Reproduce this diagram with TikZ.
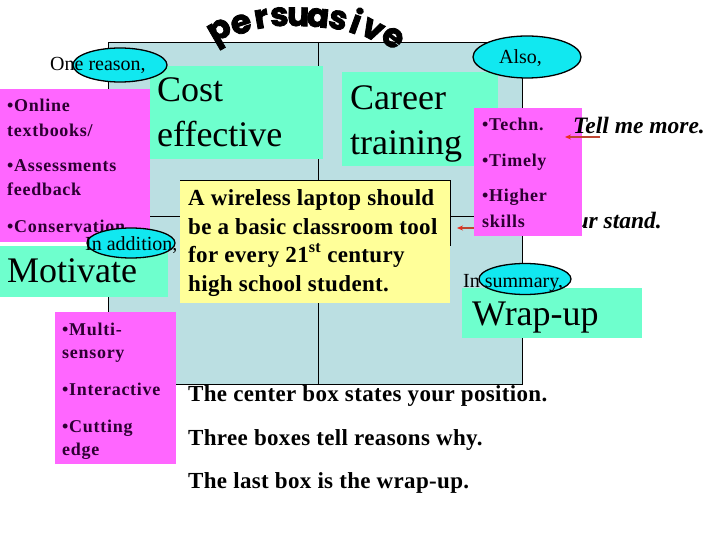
\documentclass[tikz,border=0pt]{standalone}
\usepackage{fontspec}
\setmainfont{Liberation Serif}
\newfontfamily\spcfont{Liberation Serif}[LetterSpace=1.5]
\newfontfamily\pinkfont{Liberation Serif}[LetterSpace=4]
\newfontfamily\titlefont{Poppins}[BoldFeatures={FakeBold=2.5}]
\usetikzlibrary{arrows.meta,shapes.geometric}
\definecolor{bluebg}{RGB}{187,223,226}
\definecolor{aqua}{RGB}{110,255,205}
\definecolor{pinkbox}{RGB}{255,102,255}
\definecolor{yellowbox}{RGB}{255,255,153}
\definecolor{cyanell}{RGB}{17,232,240}
\definecolor{darktext}{RGB}{45,0,50}
\definecolor{arrowline}{RGB}{190,70,50}
\definecolor{arrowhead}{RGB}{235,45,30}
\begin{document}
\begin{tikzpicture}[x=1pt,y=-1pt,
  boxshape/.style={rectangle,inner sep=0pt,outer sep=0pt,anchor=north west},
  aquabox/.style={boxshape,fill=aqua},
  pinkrect/.style={boxshape,fill=pinkbox},
  ell/.style={ellipse,draw=black,line width=1.3pt,fill=cyanell,inner sep=0pt},
  elltext/.style={anchor=base west,inner sep=0pt,font=\fontsize{20}{24}\selectfont},
  bigtext/.style={anchor=base west,inner sep=0pt,font=\fontsize{36}{43}\selectfont},
  ytext/.style={anchor=base west,inner sep=0pt,font=\fontsize{23}{27}\spcfont\bfseries},
  ptext/.style={anchor=base west,inner sep=0pt,text=darktext,font=\fontsize{18}{21}\pinkfont\bfseries},
  itext/.style={inner sep=0pt,font=\fontsize{23.5}{27}\selectfont\bfseries\itshape},
  titleletter/.style={anchor=base,inner sep=0pt,font=\fontsize{33}{35}\titlefont\bfseries},
  redarrow/.style={draw=arrowline,line width=1.6pt,-{Stealth[length=6pt,width=5pt,color=arrowhead]}}
]
\useasboundingbox (0,0) rectangle (720,540);
\fill[white] (0,0) rectangle (720,540);

% frame with grid
\node[boxshape,fill=bluebg,draw=black,line width=0.8pt,minimum width=414pt,minimum height=342pt] (frame) at (108,42) {};
\draw[line width=0.8pt] (318,42) -- (318,384);
\draw[line width=0.8pt] (108,216) -- (522,216);

% reason boxes in frame
\node[aquabox,minimum width=173pt,minimum height=93pt] (costbox) at (150,66) {};
\node[bigtext] (cost1) at (157,102) {Cost};
\node[bigtext] (cost2) at (157,147) {effective};
\node[aquabox,minimum width=156pt,minimum height=94pt] (careerbox) at (342,72) {};
\node[bigtext] (career1) at (350,110) {Career};
\node[bigtext] (career2) at (350,155) {training};

% centre box
\node[boxshape,fill=yellowbox,minimum width=270pt,minimum height=123pt] (centre) at (180,180) {};
\draw[line width=0.8pt] (180,180) -- (450,180) -- (450,246);
\node[ytext] (y1) at (188,206) {A wireless laptop should};
\node[ytext] (y2) at (188,234) {be a basic classroom tool};
\node[ytext] (y3) at (188,262) {for every 21\textsuperscript{st} century};
\node[ytext] (y4) at (188,291) {high school student.};

% state your stand (under the pink box)
\node[itext,anchor=base east] (stand) at (662,229) {State your stand.};
\coordinate (standstart) at (505,228);
\coordinate (standend) at (457,228);
\draw[redarrow] (standstart) -- (standend);

% right pink box
\node[pinkrect,minimum width=108pt,minimum height=128pt] (rpink) at (474,108) {};
\node[ptext] (r1) at (482,131) {•Techn.};
\node[ptext] (r2) at (482,167) {•Timely};
\node[ptext] (r3) at (482,202) {•Higher};
\node[ptext] (r4) at (482,227) {skills};

% tell me more
\node[itext,anchor=base west] (tell) at (573,134) {Tell me more.};
\coordinate (tellstart) at (600,137);
\coordinate (tellend) at (565,137);
\draw[redarrow] (tellstart) -- (tellend);

% left pink box
\node[pinkrect,minimum width=150pt,minimum height=153pt] (lpink) at (0,89) {};
\node[ptext] (l1) at (7,112) {•Online};
\node[ptext] (l2) at (7,137) {textbooks/};
\node[ptext] (l3) at (7,172) {•Assessments};
\node[ptext] (l4) at (7,196) {feedback};
\node[ptext] (l5) at (7,233) {•Conservation};

% one reason
\node[ell,minimum width=94pt,minimum height=34pt] (ell1) at (120,65) {};
\node[elltext] (one) at (50,71) {One reason,};

% motivate
\node[aquabox,minimum width=168pt,minimum height=51pt] (motbox) at (0,246) {};
\node[bigtext] (mot) at (7,282) {Motivate};
\node[ell,minimum width=88pt,minimum height=30pt] (ell3) at (131,243) {};
\node[elltext] (inadd) at (85,250) {In addition,};

% bottom pink box
\node[pinkrect,minimum width=121pt,minimum height=152pt] (bpink) at (55,312) {};
\node[ptext] (b1) at (62,335) {•Multi-};
\node[ptext] (b2) at (62,358) {sensory};
\node[ptext] (b3) at (62,395) {•Interactive};
\node[ptext] (b4) at (62,432) {•Cutting};
\node[ptext] (b5) at (62,455) {edge};

% wrap-up
\node[aquabox,minimum width=180pt,minimum height=50pt] (wrapbox) at (462,288) {};
\node[bigtext] (wrap) at (472,325) {Wrap-up};
\node[ell,minimum width=92pt,minimum height=31pt] (ell4) at (525,279) {};
\node[elltext] (insum) at (463,287) {In summary,};

% also
\node[ell,minimum width=108pt,minimum height=42pt] (ell2) at (527,57) {};
\node[elltext] (also) at (499,64) {Also,};

% notes
\node[ytext] (n1) at (188,401) {The center box states your position.};
\node[ytext] (n2) at (188,445) {Three boxes tell reasons why.};
\node[ytext] (n3) at (188,488) {The last box is the wrap-up.};

% title
\foreach \ch/\xx/\yy/\rr [count=\i] in {p/224/38/30, e/244/33/18, r/263/28/10, s/280/26/4, u/298/26/-1, a/317/27/-6, s/336/29/-12, i/352/33/-20, v/368/38/-28, e/387/45/-38}
  \node[titleletter,rotate=\rr] (title\i) at (\xx,\yy) {\ch};
\end{tikzpicture}
\end{document}
